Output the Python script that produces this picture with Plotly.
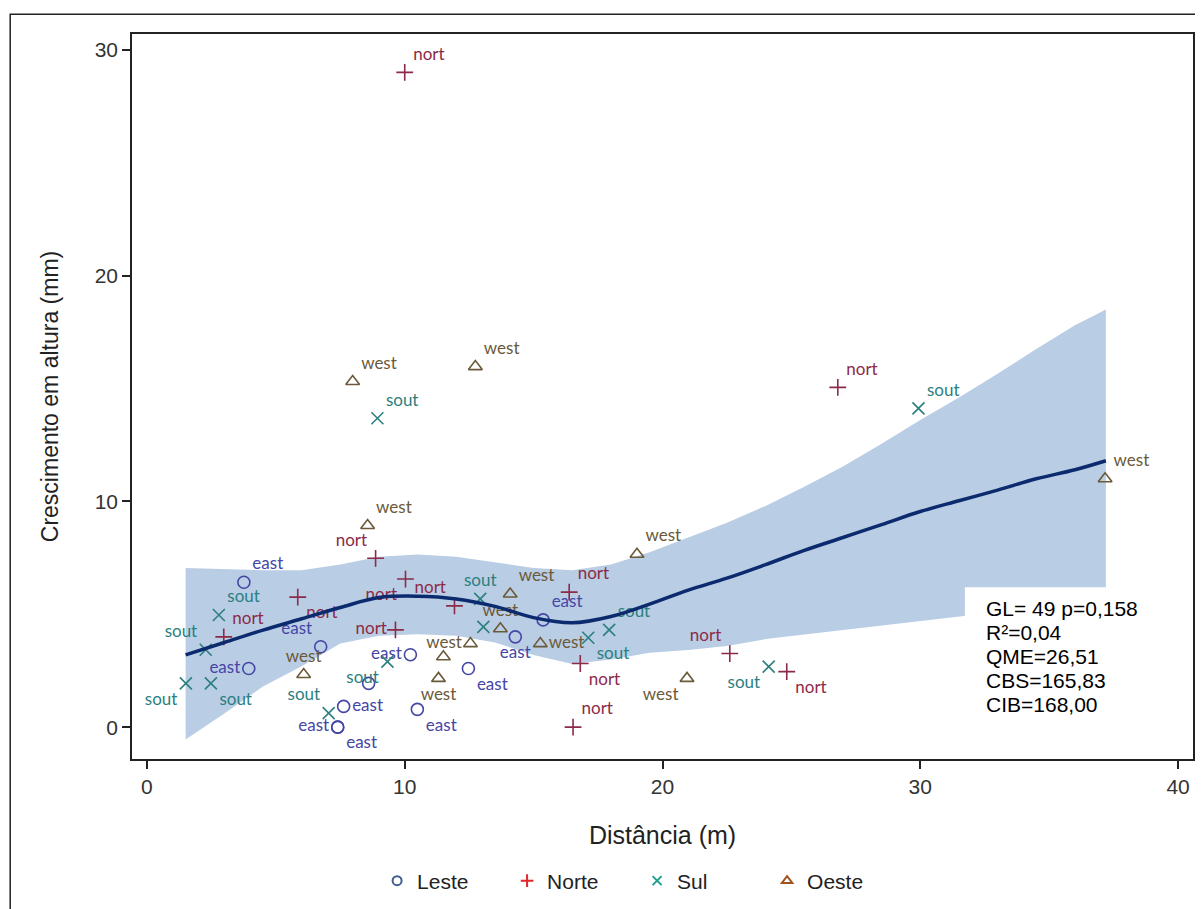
import plotly.graph_objects as go

# dados: distância (m) e crescimento em altura (mm) por orientação
leste_x = [3.76, 6.74, 3.95, 8.60, 10.22, 7.63, 7.40, 7.40, 10.49, 12.47, 14.29, 15.37]
leste_y = [6.42, 3.56, 2.60, 1.94, 3.21, 0.92, 0.0, 0.0, 0.79, 2.60, 4.00, 4.75]
leste_lbl = ["east", "east", "east", "", "east", "east", "east", "east", "east", "east", "east", "east"]

norte_x = [10.0, 26.8, 8.87, 10.03, 11.93, 5.85, 2.98, 9.64, 16.38, 16.81, 22.61, 24.82, 16.53]
norte_y = [29.0, 15.05, 7.48, 6.56, 5.37, 5.76, 4.00, 4.31, 5.98, 2.82, 3.26, 2.46, 0.0]
norte_lbl = ["nort"] * 13

sul_x = [2.79, 2.28, 1.51, 2.48, 9.33, 7.05, 8.94, 12.93, 13.05, 17.12, 17.93, 24.12, 29.93]
sul_y = [4.97, 3.43, 1.94, 1.94, 2.90, 0.62, 13.68, 5.68, 4.44, 3.96, 4.31, 2.68, 14.12]
sul_lbl = ["sout"] * 8 + [""] + ["sout"] * 4

oeste_x = [7.98, 12.74, 8.56, 37.17, 19.01, 14.09, 13.71, 12.55, 11.50, 11.31, 15.26, 6.08, 20.95]
oeste_y = [15.31, 15.97, 8.93, 11.0, 7.66, 5.90, 4.36, 3.70, 3.12, 2.16, 3.70, 2.33, 2.16]
oeste_lbl = ["west"] * 8 + [""] + ["west"] * 4

# curva ajustada e intervalo de confiança
fit_x = [1.5, 3, 4.5, 6, 7.5, 9, 10.5, 12, 13.5, 15, 16.5, 18, 19.5, 21, 22.5,
         24, 25.5, 27, 28.5, 30, 31.5, 33, 34.5, 36, 37.2]
fit_y = [3.2, 3.75, 4.3, 4.8, 5.3, 5.74, 5.8, 5.68, 5.35, 4.85, 4.62, 4.9, 5.45, 6.07, 6.6,
         7.2, 7.83, 8.4, 8.97, 9.55, 10.03, 10.5, 11.0, 11.4, 11.8]
fit_up = [7.05, 7.0, 6.95, 6.95, 7.2, 7.55, 7.65, 7.55, 7.3, 7.05, 6.95, 7.2, 7.75, 8.4, 9.05,
          9.8, 10.65, 11.55, 12.55, 13.6, 14.6, 15.65, 16.75, 17.8, 18.5]
fit_lo = [-0.55, 0.6, 1.8, 2.7, 3.7, 4.05, 4.12, 4.05, 3.75, 3.2, 2.8, 3.0, 3.3, 3.42, 3.6,
          3.9, 4.1, 4.3, 4.5, 4.7, 4.9, 5.1, 5.3, 5.5, 5.6]

stats_txt = ["GL= 49 p=0,158", "R²=0,04", "QME=26,51", "CBS=165,83", "CIB=168,00"]

# posições dos rótulos
leste_pos = ["top right", "top left", "middle left", "top center", "middle left", "middle right",
             "middle left", "bottom right", "bottom right", "bottom right", "bottom center", "top right"]
norte_pos = ["top right", "top right", "top left", "bottom left", "top left", "bottom right",
             "top right", "middle left", "top right", "bottom right", "top left", "bottom right", "top right"]
sul_pos = ["top right", "top left", "bottom left", "bottom right", "bottom left", "top left",
           "top right", "top center", "top center", "bottom right", "top right", "bottom left", "top right"]
oeste_pos = ["top right", "top right", "top right", "top right", "top right", "top right",
             "top center", "middle left", "top center", "bottom center", "middle right", "top center", "bottom left"]

lbl_font = "Lato, Open Sans, sans-serif"
txt_font = "Liberation Sans, Arial, sans-serif"

fig = go.Figure()

# faixa de confiança
fig.add_trace(go.Scatter(x=fit_x + fit_x[::-1], y=fit_up + fit_lo[::-1], fill="toself",
                         fillcolor="#b9cde5", line=dict(width=0), mode="lines",
                         hoverinfo="skip", showlegend=False))

series = [
    ("Leste", leste_x, leste_y, leste_lbl, leste_pos, "circle-open", "#4646a6", "#3e5f8c"),
    ("Norte", norte_x, norte_y, norte_lbl, norte_pos, "cross-thin-open", "#8c2a48", "#e3242b"),
    ("Sul", sul_x, sul_y, sul_lbl, sul_pos, "x-thin-open", "#2b7f7f", "#1fa08f"),
    ("Oeste", oeste_x, oeste_y, oeste_lbl, oeste_pos, "triangle-up-open", "#6b5a3a", "#a0521c"),
]
for name, xs, ys, lbl, pos, sym, col, legcol in series:
    fig.add_trace(go.Scatter(x=xs, y=ys, mode="markers+text", text=lbl, textposition=pos,
                             textfont=dict(family=lbl_font, size=17, color=col),
                             marker=dict(symbol=sym, size=12, color=col, line=dict(width=1.6, color=col)),
                             name=name, showlegend=False, cliponaxis=False))

# curva
fig.add_trace(go.Scatter(x=fit_x, y=fit_y, mode="lines", line=dict(color="#0c2a6e", width=3.5, shape="spline"),
                         showlegend=False, hoverinfo="skip"))

# legenda
for name, xs, ys, lbl, pos, sym, col, legcol in series:
    fig.add_trace(go.Scatter(x=[None], y=[None], mode="markers", name=name,
                             marker=dict(symbol=sym, size=9, color=legcol, line=dict(width=2, color=legcol))))

# caixa de estatísticas
annots = []
for i, s in enumerate(stats_txt):
    annots.append(dict(xref="paper", yref="paper", x=0.8034, y=0.207 - i * 0.0329,
                       xanchor="left", yanchor="middle", showarrow=False, text=s,
                       font=dict(family=txt_font, size=21, color="black")))

fig.update_layout(
    width=1196, height=902,
    margin=dict(l=124, r=9, t=26, b=146),
    paper_bgcolor="white", plot_bgcolor="white",
    font=dict(family=txt_font, size=20, color="#222"),
    legend=dict(orientation="h", x=0.231, y=-0.14, xanchor="left", yanchor="top",
                font=dict(size=21, color="#222"), entrywidth=85, itemwidth=30),
    shapes=[
        dict(type="rect", xref="paper", yref="paper", x0=0.785, x1=0.97, y0=0.015, y1=0.237,
             fillcolor="white", line=dict(width=0), layer="above"),
        dict(type="rect", xref="paper", yref="paper", x0=-0.1148, x1=1.0047, y0=-0.21, y1=1.0274,
             line=dict(color="#222", width=1.5), fillcolor="rgba(0,0,0,0)"),
    ],
    annotations=annots,
)
fig.update_xaxes(range=[-0.58, 40.58], tickvals=[0, 10, 20, 30, 40], ticks="outside", ticklen=8,
                 tickwidth=1.5, tickcolor="#222", showgrid=False, zeroline=False,
                 showline=True, mirror=True, linecolor="#222", linewidth=1.5,
                 title=dict(text="Distância (m)", font=dict(size=25), standoff=30),
                 tickfont=dict(size=21, color="#333"))
fig.update_yaxes(range=[-1.41, 30.7], tickvals=[0, 10, 20, 30], ticks="outside", ticklen=8,
                 tickwidth=1.5, tickcolor="#222", showgrid=False, zeroline=False,
                 showline=True, mirror=True, linecolor="#222", linewidth=1.5,
                 title=dict(text="Crescimento em altura (mm)", font=dict(size=23), standoff=30),
                 tickfont=dict(size=21, color="#333"))

fig.write_html("out.html")
